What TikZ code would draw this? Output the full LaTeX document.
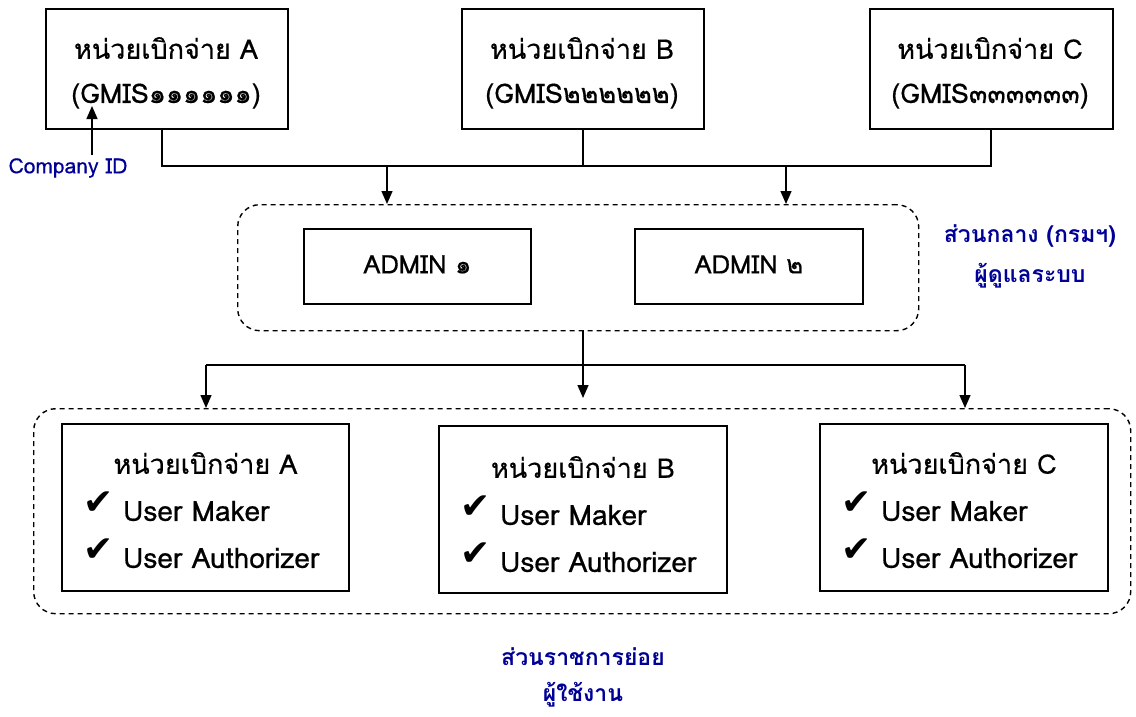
\documentclass[tikz,border=0pt]{standalone}
\usepackage{fontspec}
\setmainfont[Script=Thai,FakeBold=0.5,BoldFont={Loma Bold},BoldFeatures={FakeBold=0}]{Loma}
\newfontfamily\symfont{DejaVu Sans}
\usetikzlibrary{arrows.meta}
\definecolor{navy}{RGB}{0,0,150}
\begin{document}
\begin{tikzpicture}[x=1pt,y=-1pt,
  box/.style={draw,line width=1.8pt,inner sep=0pt,anchor=north west},
  txt/.style={font=\fontsize{27}{31}\selectfont,inner sep=0pt},
  adm/.style={font=\fontsize{25.5}{30}\selectfont,inner sep=0pt},
  item/.style={font=\fontsize{28}{32}\selectfont,inner sep=0pt,anchor=west},
  chk/.style={font=\fontsize{36}{40}\selectfont\symfont,inner sep=0pt},
  lbl/.style={text=navy,font=\fontsize{23}{27}\selectfont\bfseries,inner sep=0pt},
  conn/.style={line width=1.4pt},
  arr/.style={line width=1.4pt,-{Triangle[length=13pt,width=11pt]}},
  grp/.style={draw,dashed,dash pattern=on 5pt off 4pt,line width=1.4pt,rounded corners=22pt,inner sep=0pt,anchor=north west}]
\useasboundingbox (0,0) rectangle (1136,717);
% top boxes
\node[box,minimum width=242pt,minimum height=120pt] (tA) at (45,8) {};
\node[box,minimum width=242pt,minimum height=120pt] (tB) at (461,8) {};
\node[box,minimum width=243pt,minimum height=120pt] (tC) at (869,8) {};
\node[txt] (tA1) at (166,48) {หน่วยเบิกจ่าย A};
\node[txt] (tA2) at (166,96) {(GMIS๑๑๑๑๑๑)};
\node[txt] (tB1) at (582,48) {หน่วยเบิกจ่าย B};
\node[txt] (tB2) at (582,96) {(GMIS๒๒๒๒๒๒)};
\node[txt] (tC1) at (990,48) {หน่วยเบิกจ่าย C};
\node[txt] (tC2) at (990,96) {(GMIS๓๓๓๓๓๓)};
% company id
\node[text=navy,font=\fontsize{21}{25}\selectfont,inner sep=0pt] (cid) at (68,168) {Company ID};
\coordinate (cidtop) at (92,155);
\coordinate (cidtip) at (92,106);
\draw[arr] (cidtop) -- (cidtip);
% top connectors
\coordinate (jA) at (162,166);
\coordinate (jB) at (583,166);
\coordinate (jC) at (991,166);
\draw[conn] (tA.south -| jA) -- (jA) -- (jC) -- (tC.south -| jC);
\draw[conn] (tB.south -| jB) -- (jB);
% middle group
\node[grp,minimum width=681pt,minimum height=126pt] (mid) at (237,204) {};
\coordinate (m1) at (387,166);
\coordinate (m2) at (786,166);
\draw[arr] (m1) -- (m1 |- mid.north);
\draw[arr] (m2) -- (m2 |- mid.north);
\node[box,minimum width=227pt,minimum height=75pt] (ad1) at (303,228) {};
\node[box,minimum width=228pt,minimum height=75pt] (ad2) at (634,228) {};
\node[adm] (ad1t) at ([yshift=2pt]ad1.center) {ADMIN ๑};
\node[adm] (ad2t) at ([yshift=2pt]ad2.center) {ADMIN ๒};
\node[lbl] (lc1) at (1030,236) {ส่วนกลาง (กรมฯ)};
\node[lbl] (lc2) at (1030,276) {ผู้ดูแลระบบ};
% lower connectors
\node[grp,minimum width=1097pt,minimum height=205pt] (low) at (33,408) {};
\coordinate (hL) at (206,365);
\coordinate (hR) at (965,365);
\coordinate (mc) at (583,330);
\draw[conn] (hL) -- (hR);
\draw[arr] (mc) -- (583,398);
\draw[arr] (hL) -- (hL |- low.north);
\draw[arr] (hR) -- (hR |- low.north);
% bottom boxes
\node[box,minimum width=287pt,minimum height=167pt] (bA) at (61,423) {};
\node[box,minimum width=288pt,minimum height=167pt] (bB) at (438,425) {};
\node[box,minimum width=288pt,minimum height=167pt] (bC) at (819,423) {};
\foreach \b/\n/\dy in {bA/A/0,bB/B/2,bC/C/0}{
  \node[txt] (\b t) at ([yshift=-40pt-\dy pt]\b.north) {หน่วยเบิกจ่าย \n};
  \node[chk] (\b c1) at ([xshift=38pt,yshift=-80pt-\dy pt]\b.north west) {✔};
  \node[item] (\b m) at ([xshift=62pt,yshift=-88pt-\dy pt]\b.north west) {User Maker};
  \node[chk] (\b c2) at ([xshift=38pt,yshift=-127pt-\dy pt]\b.north west) {✔};
  \node[item] (\b a) at ([xshift=62pt,yshift=-135pt-\dy pt]\b.north west) {User Authorizer};
}
\node[lbl] (ls1) at (583,657) {ส่วนราชการย่อย};
\node[lbl] (ls2) at (583,695) {ผู้ใช้งาน};
\end{tikzpicture}
\end{document}
